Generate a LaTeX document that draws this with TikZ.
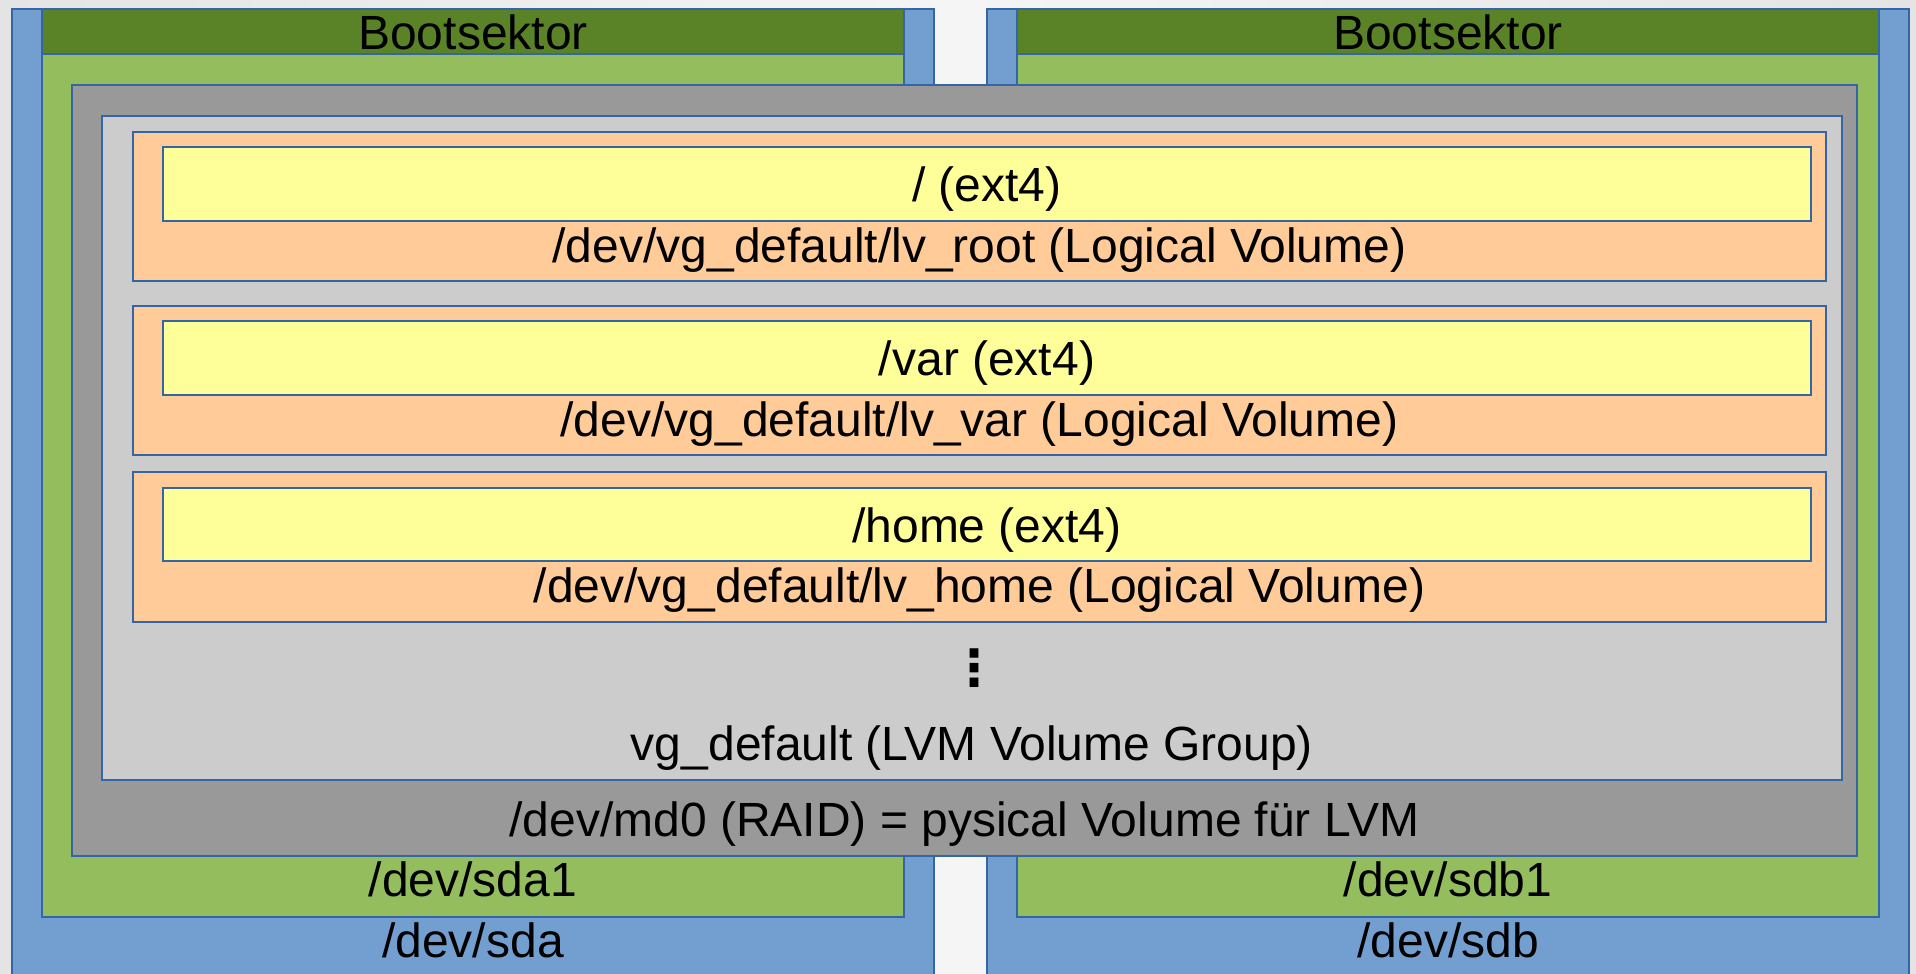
\documentclass[tikz,border=0pt]{standalone}
\usepackage{fontspec}
\setmainfont{Liberation Sans}
\newfontfamily\symfont{DejaVu Sans}
\definecolor{bgedge}{HTML}{E4E4E4}
\definecolor{bgmid}{HTML}{F5F5F5}
\definecolor{frame}{HTML}{3465A4}
\definecolor{diskblue}{HTML}{729FCF}
\definecolor{bootgreen}{HTML}{5A8227}
\definecolor{partgreen}{HTML}{94BD5E}
\definecolor{raidgray}{HTML}{999999}
\definecolor{vggray}{HTML}{CCCCCC}
\definecolor{lvorange}{HTML}{FFCC99}
\definecolor{fsyellow}{HTML}{FFFF99}
\begin{document}
\begin{tikzpicture}[x=1pt,y=-1pt,
  box/.style={draw=frame,line width=1.5pt},
  lbl/.style={anchor=base,inner sep=0pt,font=\fontsize{48}{56}\selectfont}]
\useasboundingbox (0,0) rectangle (1916,974);
\shade[left color=bgedge,right color=bgedge,middle color=bgmid] (0,0) rectangle (1916,974);

% physical disks
\path[box,fill=diskblue] (12,9) rectangle (934,990);
\path[box,fill=diskblue] (987,9) rectangle (1909,990);
% partitions with boot sectors
\path[box,fill=partgreen] (42,9) rectangle (904,917);
\path[box,fill=bootgreen] (42,9) rectangle (904,54);
\path[box,fill=partgreen] (1017,9) rectangle (1879,917);
\path[box,fill=bootgreen] (1017,9) rectangle (1879,54);
% RAID device
\path[box,fill=raidgray] (72,85) rectangle (1857,856);
% volume group
\path[box,fill=vggray] (102,116) rectangle (1842,780);
% logical volumes and file systems
\path[box,fill=lvorange] (133,132) rectangle (1826,281);
\path[box,fill=fsyellow] (163,147) rectangle (1811,221);
\path[box,fill=lvorange] (133,306) rectangle (1826,455);
\path[box,fill=fsyellow] (163,321) rectangle (1811,395);
\path[box,fill=lvorange] (133,472) rectangle (1826,622);
\path[box,fill=fsyellow] (163,488) rectangle (1811,561);

% labels
\node[lbl] (bootA) at (473,49) {Bootsektor};
\node[lbl] (bootB) at (1448,49) {Bootsektor};
\node[lbl] (fsroot) at (987,201) {/ (ext4)};
\node[lbl] (lvroot) at (979.5,262) {/dev/vg\_default/lv\_root (Logical Volume)};
\node[lbl] (fsvar) at (987,375) {/var (ext4)};
\node[lbl] (lvvar) at (979.5,436) {/dev/vg\_default/lv\_var (Logical Volume)};
\node[lbl] (fshome) at (987,542) {/home (ext4)};
\node[lbl] (lvhome) at (979.5,602) {/dev/vg\_default/lv\_home (Logical Volume)};
\node[inner sep=0pt,font=\symfont\bfseries\fontsize{50}{50}\selectfont] (more) at (974,668.5) {⋮};
\node[lbl] (vg) at (972,760) {vg\_default (LVM Volume Group)};
\node[lbl] (md) at (964.5,836) {/dev/md0 (RAID) = pysical Volume für LVM};
\node[lbl] (sda1) at (473,896) {/dev/sda1};
\node[lbl] (sdb1) at (1448,896) {/dev/sdb1};
\node[lbl] (sda) at (473,957) {/dev/sda};
\node[lbl] (sdb) at (1448,957) {/dev/sdb};
\end{tikzpicture}
\end{document}
